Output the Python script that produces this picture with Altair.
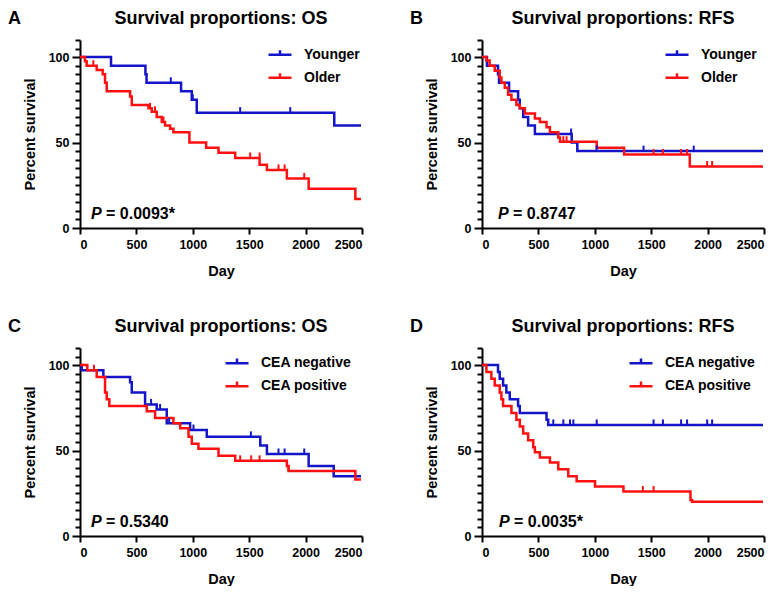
import altair as alt
import pandas as pd

FONT = "Liberation Sans"
BLUE = "#1414c8"
RED = "#ff1010"

# ---------------- data ----------------
# Panel A: OS by age
a_young_t = [0, 275, 580, 590, 896, 991, 1035, 2254, 2491]
a_young_s = [100, 95, 90, 85, 80, 75, 67.5, 60, 60]
a_young_ct = [805, 1000, 1420, 1864]
a_young_cs = [85, 75, 67.5, 67.5]
a_old_t = [0, 44, 59, 148, 201, 222, 237, 444, 459, 607, 636, 680, 725, 754, 799, 828,
           970, 1118, 1228, 1376, 1592, 1657, 1834, 2027, 2441, 2491]
a_old_s = [100, 97.5, 95, 92.5, 90, 85, 80, 77, 72, 70, 68, 65, 62, 60, 58, 56,
           50, 47, 44, 41, 37, 34, 29, 23, 17, 17]
a_old_ct = [118, 621, 665, 740, 1509, 1592, 1760, 1814, 1988]
a_old_cs = [95, 70, 68, 62, 41, 41, 34, 34, 29]

# Panel B: RFS by age
b_young_t = [0, 44, 142, 151, 240, 320, 335, 365, 409, 469, 795, 845, 2491]
b_young_s = [100, 95, 90, 85, 80, 75, 70, 65, 60, 55, 50, 45, 45]
b_young_ct = [790, 1017, 1432, 1877]
b_young_cs = [55, 45, 45, 45]
b_old_t = [0, 39, 68, 113, 157, 172, 202, 231, 261, 305, 335, 380, 469, 513, 572, 602,
           676, 691, 1017, 1260, 1842, 2491]
b_old_s = [100, 98, 95, 92, 88, 85, 82, 78, 75, 72, 70, 67, 64, 62, 59, 56,
           53, 50.5, 47, 43, 36, 36]
b_old_ct = [721, 750, 1521, 1604, 1765, 1818, 1996, 2040]
b_old_cs = [50.5, 50.5, 43, 43, 43, 43, 36, 36]

# Panel C: OS by CEA
c_neg_t = [0, 15, 207, 444, 459, 577, 680, 769, 976, 1124, 1598, 1657, 2027, 2249, 2491]
c_neg_s = [100, 97, 93, 90, 84, 77, 74, 66, 62, 58, 53, 48, 41, 35, 35]
c_neg_ct = [630, 710, 790, 1006, 1515, 1760, 1814, 1988]
c_neg_cs = [77, 74, 66, 62, 58, 48, 48, 48]
c_pos_t = [0, 65, 148, 222, 237, 260, 592, 666, 828, 888, 962, 991, 1050, 1228, 1376,
           1834, 1849, 2441, 2491]
c_pos_s = [100, 97, 93, 84, 80, 76, 73, 69, 66, 63, 58, 54, 51, 47, 44,
           41, 38, 33, 33]
c_pos_ct = [124, 1420, 1518, 1592, 1849]
c_pos_cs = [97, 44, 44, 44, 38]

# Panel D: RFS by CEA
d_neg_t = [0, 142, 157, 187, 216, 246, 320, 335, 572, 587, 2491]
d_neg_s = [100, 96, 92, 88, 84, 80, 76, 72, 68, 65, 65]
d_neg_ct = [632, 721, 780, 810, 1017, 1521, 1604, 1765, 1818, 1996, 2040]
d_neg_cs = [65, 65, 65, 65, 65, 65, 65, 65, 65, 65, 65]
d_pos_t = [0, 39, 83, 113, 157, 172, 187, 261, 305, 335, 365, 409, 454, 469, 513, 602,
           676, 765, 839, 1002, 1254, 1848, 1862, 2491]
d_pos_s = [100, 96, 92, 88, 84, 80, 76, 72, 68, 64, 60, 56, 52, 49, 46, 43,
           39, 35, 32, 29, 26, 21, 20, 20]
d_pos_ct = [1426, 1521]
d_pos_cs = [26, 26]

letters = ["A", "B", "C", "D"]
titles = ["Survival proportions: OS", "Survival proportions: RFS",
          "Survival proportions: OS", "Survival proportions: RFS"]
pvalues = ["= 0.0093*", "= 0.8747", "= 0.5340", "= 0.0035*"]
age_groups = ["Younger", "Older"]
cea_groups = ["CEA negative", "CEA positive"]
x_ticks = [0, 500, 1000, 1500, 2000, 2500]
y_ticks = list(range(0, 115, 5))


def curve_df(names, ts, ss):
    rows = []
    for n, t, s in zip(names, ts, ss):
        for i, (ti, si) in enumerate(zip(t, s)):
            rows.append({"group": n, "day": ti, "surv": si, "i": i})
    return pd.DataFrame(rows)


def text_layer(txt, x, y, size, align="left", baseline="top", style="normal"):
    return alt.Chart(pd.DataFrame({"t": [txt]})).mark_text(
        font=FONT, fontSize=size, fontWeight="bold", fontStyle=style, align=align,
        baseline=baseline, color="black").encode(
        text="t:N", x=alt.value(x), y=alt.value(y))


X_AXIS = alt.Axis(values=x_ticks, title="Day", tickSize=6, labelPadding=4,
                  titlePadding=14, grid=False, labelOverlap=False, format="d")
Y_AXIS = alt.Axis(values=y_ticks, title="Percent survival", grid=False,
                  labelExpr="datum.value % 50 === 0 ? datum.label : ''",
                  tickSize={"condition": {"test": "datum.value % 50 === 0", "value": 8},
                            "value": 5},
                  labelPadding=3, titlePadding=11, labelOverlap=False)


def panel(letter, title, names, ts, ss, cts, css, pval, p_x, leg_x, leg_y):
    curves = curve_df(names, ts, ss)
    cens = curve_df(names, cts, css)
    color_scale = alt.Scale(domain=names, range=[BLUE, RED])
    xs = alt.Scale(domain=[0, 2500], nice=False)
    ys = alt.Scale(domain=[0, 110], nice=False)
    legend = alt.Legend(orient="none", legendX=leg_x, legendY=leg_y, title=None,
                        labelFont=FONT, labelFontSize=14, labelFontWeight="bold",
                        labelColor="black", symbolType="M-1,0H1M0,0V-0.4",
                        symbolSize=529, symbolStrokeWidth=2.5, labelOffset=11,
                        rowPadding=3, padding=0)
    lines = alt.Chart(curves).mark_line(interpolate="step-after", strokeWidth=2.5).encode(
        x=alt.X("day:Q", scale=xs, axis=X_AXIS),
        y=alt.Y("surv:Q", scale=ys, axis=Y_AXIS),
        color=alt.Color("group:N", scale=color_scale, legend=legend),
        order="i:Q",
    )
    ticks = alt.Chart(cens).mark_point(shape="M0,0V-1", filled=False, strokeWidth=2,
                                      size=120, opacity=1).encode(
        x=alt.X("day:Q", scale=xs, axis=X_AXIS),
        y=alt.Y("surv:Q", scale=ys, axis=Y_AXIS),
        color=alt.Color("group:N", scale=color_scale, legend=legend),
    )
    layers = [
        lines, ticks,
        text_layer("P", p_x, 174, 16, baseline="middle", style="italic"),
        text_layer(pval, p_x + 15, 174, 16, baseline="middle"),
        text_layer(letter, -72, -30, 18),
        text_layer(title, 141, -30, 18, align="center"),
    ]
    return alt.layer(*layers).properties(width=282, height=188)


pA = panel(letters[0], titles[0], age_groups, [a_young_t, a_old_t], [a_young_s, a_old_s],
           [a_young_ct, a_old_ct], [a_young_cs, a_old_cs], pvalues[0], 11, 187, 1.8)
pB = panel(letters[1], titles[1], age_groups, [b_young_t, b_old_t], [b_young_s, b_old_s],
           [b_young_ct, b_old_ct], [b_young_cs, b_old_cs], pvalues[1], 16, 182, 1.8)
pC = panel(letters[2], titles[2], cea_groups, [c_neg_t, c_pos_t], [c_neg_s, c_pos_s],
           [c_neg_ct, c_pos_ct], [c_neg_cs, c_pos_cs], pvalues[2], 11, 144, 2.2)
pD = panel(letters[3], titles[3], cea_groups, [d_neg_t, d_pos_t], [d_neg_s, d_pos_s],
           [d_neg_ct, d_pos_ct], [d_neg_cs, d_pos_cs], pvalues[3], 17, 146, 2.2)

chart = alt.concat(pA, pB, pC, pD, columns=2, spacing=120, bounds="flush").resolve_scale(
    color="independent").resolve_legend(color="independent").properties(
    padding={"top": 2, "left": 0, "right": 0, "bottom": 0}).configure_view(
    stroke=None).configure_axis(
    domainColor="black", domainWidth=2, tickColor="black", tickWidth=2,
    labelFont=FONT, labelFontSize=12.5, labelFontWeight="bold", labelColor="black",
    titleFont=FONT, titleFontSize=14.5, titleFontWeight="bold", titleColor="black",
)

chart.save("out.html", embed_options={"renderer": "svg", "actions": False})
